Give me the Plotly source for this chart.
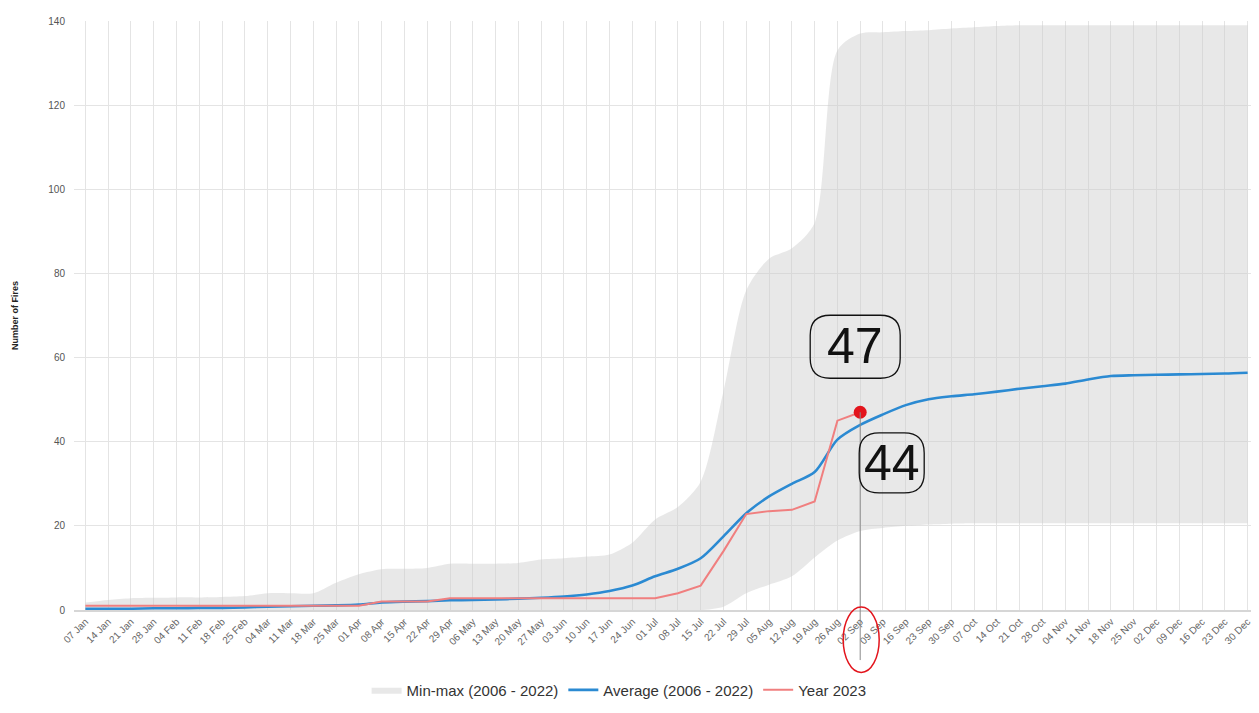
import plotly.graph_objects as go

weeks = ["07 Jan", "14 Jan", "21 Jan", "28 Jan", "04 Feb", "11 Feb", "18 Feb", "25 Feb",
         "04 Mar", "11 Mar", "18 Mar", "25 Mar", "01 Apr", "08 Apr", "15 Apr", "22 Apr",
         "29 Apr", "06 May", "13 May", "20 May", "27 May", "03 Jun", "10 Jun", "17 Jun",
         "24 Jun", "01 Jul", "08 Jul", "15 Jul", "22 Jul", "29 Jul", "05 Aug", "12 Aug",
         "19 Aug", "26 Aug", "02 Sep", "09 Sep", "16 Sep", "23 Sep", "30 Sep", "07 Oct",
         "14 Oct", "21 Oct", "28 Oct", "04 Nov", "11 Nov", "18 Nov", "25 Nov", "02 Dec",
         "09 Dec", "16 Dec", "23 Dec", "30 Dec"]

min_vals = [0] * 28 + [0.8, 4, 6, 8, 12.5, 16.5, 18.8, 19.5, 20, 20.3, 20.5] + [20.6] * 13

max_vals = [1.8, 2.4, 2.8, 2.9, 3.0, 3.0, 3.1, 3.3, 4.0, 4.0, 4.0, 6.5, 8.5, 9.7, 9.8, 10.0,
            11.0, 11.0, 11.0, 11.2, 12.0, 12.3, 12.7, 13.2, 16, 21.5, 24.5, 30.5, 52, 76,
            83.5, 86, 92, 133, 137, 137.3, 137.6, 137.8, 138.2, 138.5, 138.8] + [139] * 11

avg_vals = [0.3, 0.3, 0.3, 0.4, 0.4, 0.5, 0.5, 0.6, 0.8, 0.9, 1.0, 1.1, 1.3, 1.8, 2.0, 2.1,
            2.3, 2.4, 2.5, 2.7, 2.9, 3.2, 3.7, 4.5, 5.8, 8.0, 9.8, 12.3, 17.5, 23.0, 27.0,
            30.0, 32.8, 40.5, 44.0, 46.5, 48.7, 50.1, 50.8, 51.3, 51.9, 52.6, 53.2, 53.8,
            54.8, 55.6, 55.8, 55.9, 56.0, 56.1, 56.2, 56.4]

year2023 = [1] * 13 + [2] * 3 + [2.8] * 10 + [4, 5.8, 14, 22.8, 23.5, 23.8, 25.8, 45, 47]

FONT = "Liberation Sans, Arial, sans-serif"

last_i = len(year2023) - 1
last_week = weeks[last_i]
last_val = year2023[last_i]
avg_at_last = avg_vals[last_i]

fig = go.Figure()

fig.add_trace(go.Scatter(
    x=weeks, y=min_vals, mode="lines", line=dict(width=0, shape="spline", smoothing=0.8),
    showlegend=False, hoverinfo="skip"))
fig.add_trace(go.Scatter(
    x=weeks, y=max_vals, mode="lines", line=dict(width=0, shape="spline", smoothing=0.8),
    fill="tonexty", fillcolor="rgba(205,205,205,0.45)",
    name="Min-max (2006 - 2022)"))
fig.add_trace(go.Scatter(
    x=weeks, y=avg_vals, mode="lines",
    line=dict(color="#2b8ad2", width=2.6, shape="spline", smoothing=0.8),
    name="Average (2006 - 2022)"))
fig.add_trace(go.Scatter(
    x=weeks[:len(year2023)], y=year2023, mode="lines", line=dict(color="#f07f7f", width=2),
    name="Year 2023"))
fig.add_trace(go.Scatter(
    x=[last_week], y=[last_val], mode="markers",
    marker=dict(color="#e3141c", size=13), showlegend=False))


def rounded(x0, x1, y0, y1, r):
    return (f"M {x0 + r},{y1} L {x1 - r},{y1} Q {x1},{y1} {x1},{y1 - r} "
            f"L {x1},{y0 + r} Q {x1},{y0} {x1 - r},{y0} L {x0 + r},{y0} "
            f"Q {x0},{y0} {x0},{y0 + r} L {x0},{y1 - r} Q {x0},{y1} {x0 + r},{y1} Z")


shapes = [
    dict(type="line", xref="x", yref="y", x0=last_week, x1=last_week, y0=last_val, y1=0,
         line=dict(color="#8a8a8a", width=1)),
    dict(type="line", xref="x", yref="paper", x0=last_week, x1=last_week, y0=0, y1=-0.085,
         line=dict(color="#8a8a8a", width=1)),
    dict(type="circle", xref="x", yref="paper", xsizemode="pixel", xanchor=last_week,
         x0=-17, x1=19, y0=0.005, y1=-0.106,
         line=dict(color="#e3141c", width=1.5)),
    dict(type="path", xref="x", yref="y", xsizemode="pixel", ysizemode="pixel",
         xanchor=last_week, yanchor=last_val,
         path=rounded(-50, 40, 34, 97, 20), line=dict(color="#111", width=1.3)),
    dict(type="path", xref="x", yref="y", xsizemode="pixel", ysizemode="pixel",
         xanchor=last_week, yanchor=avg_at_last,
         path=rounded(-1, 64, -68, -8, 20), line=dict(color="#111", width=1.3)),
]

annotations = [
    dict(x=last_week, y=last_val, xref="x", yref="y", text=str(last_val), showarrow=False,
         xshift=-5, yshift=66, font=dict(family=FONT, size=50, color="#111")),
    dict(x=last_week, y=avg_at_last, xref="x", yref="y", text=str(int(round(avg_at_last))),
         showarrow=False, xshift=32, yshift=-38, font=dict(family=FONT, size=50, color="#111")),
]

fig.update_layout(
    width=1251, height=705,
    margin=dict(l=66, r=0, t=13, b=103),
    plot_bgcolor="white", paper_bgcolor="white",
    font=dict(family=FONT, color="#555"),
    shapes=shapes, annotations=annotations,
    legend=dict(orientation="h", x=0.46, xanchor="center", y=-0.136, yanchor="middle",
                font=dict(size=15, color="#333"), itemwidth=30, traceorder="normal"),
    xaxis=dict(type="category", range=[-0.5, 51.5], tickangle=-45, showgrid=True,
               gridcolor="#e4e4e4", gridwidth=1, ticks="", tickfont=dict(size=10, color="#666"),
               showline=True, linecolor="#d6d6d6", linewidth=2, automargin=False),
    yaxis=dict(range=[0, 140], dtick=20, showgrid=True, gridcolor="#e4e4e4", zeroline=False,
               tickfont=dict(size=10, color="#555"), automargin=False, ticklabelstandoff=8,
               title=dict(text="<b>Number of Fires</b>", font=dict(size=9, color="#222"),
                          standoff=28)),
)

fig.write_html("out.html")
